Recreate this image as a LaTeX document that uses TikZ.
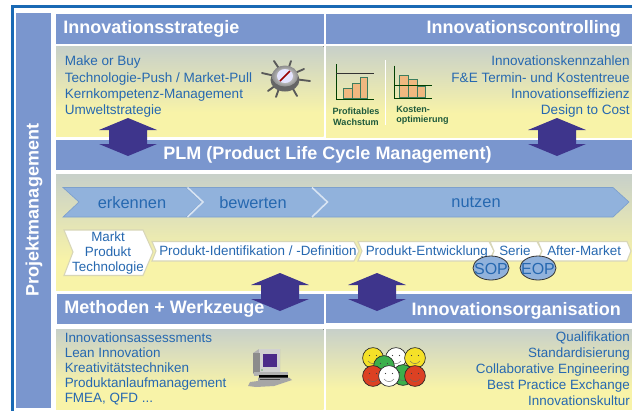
\documentclass[tikz,border=0pt]{standalone}
\usepackage{fontspec}
\setmainfont{Liberation Sans}
\definecolor{hdr}{RGB}{122,150,206}
\definecolor{frameblue}{RGB}{25,105,180}
\definecolor{txt}{RGB}{38,104,176}
\definecolor{pyel}{RGB}{248,243,168}
\definecolor{pblu}{RGB}{166,184,224}
\definecolor{chev}{RGB}{145,178,220}
\definecolor{chevline}{RGB}{125,160,205}
\definecolor{arrowc}{RGB}{62,53,140}
\definecolor{barfill}{RGB}{240,184,128}
\definecolor{barline}{RGB}{60,125,95}
\definecolor{lblgreen}{RGB}{30,90,60}
\definecolor{faceyel}{RGB}{245,225,40}
\definecolor{facegrn}{RGB}{60,175,75}
\definecolor{facered}{RGB}{220,65,35}
\pgfdeclareverticalshading{panelshade}{100bp}{color(0bp)=(pyel); color(38bp)=(pyel); color(100bp)=(pblu)}
\tikzset{
  panel/.style={shading=panelshade,draw=none},
  header/.style={fill=hdr,draw=none},
  headtext/.style={text=white,font=\bfseries\fontsize{13.5}{15}\selectfont,inner sep=0pt},
  bodyL/.style={text=txt,font=\fontsize{10.15}{12.2}\selectfont,align=left,anchor=north west,inner sep=0pt},
  bodyR/.style={text=txt,font=\fontsize{10.15}{12.2}\selectfont,align=right,anchor=north east,inner sep=0pt},
  bigchev/.style={fill=chev,draw=chevline,line width=0.5pt},
  smallchev/.style={fill=white,draw=pyel!60!gray!70,line width=0.8pt},
  chevtext/.style={text=txt,font=\fontsize{10.05}{11.3}\selectfont,inner sep=0pt,align=center},
  chevline1/.style={chevtext,anchor=west,text height=7pt,text depth=2pt},
  bigtext/.style={text=txt,font=\fontsize{12.3}{14}\selectfont,inner sep=0pt},
  dblarrow/.style={fill=arrowc,draw=none},
  barbox/.style={fill=barfill,draw=barline,line width=0.7pt},
  chartaxis/.style={draw=black!75!green,line width=0.6pt},
  chartlbl/.style={text=lblgreen,font=\bfseries\fontsize{6.8}{8}\selectfont,inner sep=0pt,align=left}
}
\newcommand{\myface}[3]{%
  \filldraw[fill=#3,draw=black!85,line width=0.5pt] (#1,#2) circle (10.4);
  \fill[black!75] (#1-3.5,#2-2.5) circle (0.7) (#1+3.5,#2-2.5) circle (0.7);
  \draw[black!60,line width=0.3pt] (#1-5,#2+3) .. controls (#1-2,#2+6.5) and (#1+2,#2+6.5) .. (#1+5,#2+3);
}
\newcommand{\myarrow}[2]{%
  \fill[dblarrow] (#1,#2) -- (#1+29,#2+12) -- (#1+19,#2+12) -- (#1+19,#2+26) -- (#1+29,#2+26) -- (#1,#2+38) -- (#1-29,#2+26) -- (#1-19,#2+26) -- (#1-19,#2+12) -- (#1-29,#2+12) -- cycle;
}
\begin{document}
\begin{tikzpicture}[x=0.75pt,y=-0.75pt]
\useasboundingbox (0,0) rectangle (632,411);
\fill[white] (0,0) rectangle (632,411);
% frame
\fill[frameblue] (11,5.3) rectangle (632,8);
\fill[frameblue] (11,5.3) rectangle (13.6,411);
% left bar
\fill[header] (16,13) rectangle (51,408);
\node[headtext,rotate=90] (pm) at (34,210) {Projektmanagement};
% top headers
\fill[header] (56,14) rectangle (323.5,44);
\fill[header] (326,14) rectangle (632,44);
\node[headtext,anchor=west] (h1) at (63,29) {Innovationsstrategie};
\node[headtext,anchor=east] (h2) at (621,29) {Innovationscontrolling};
% top panels
\fill[panel] (56,46) rectangle (323.5,136);
\fill[panel] (326,46) rectangle (632,137);
\node[bodyL] (t1) at (64.5,55.8) {Make or Buy\\Technologie-Push / Market-Pull\\Kernkompetenz-Management\\Umweltstrategie};
\node[bodyR] (t2) at (630,55.8) {Innovationskennzahlen\\F\&E Termin- und Kostentreue\\Innovationseffizienz\\Design to Cost};
% PLM
\fill[header] (56,140) rectangle (632,170);
\node[headtext] (plm) at (327.5,155) {PLM (Product Life Cycle Management)};
% process panel
\fill[panel] (56,174) rectangle (632,290.5);
\filldraw[bigchev] (63,187.5) -- (186,187.5) -- (202,202) -- (186,217) -- (63,217) -- (79,202) -- cycle;
\filldraw[bigchev] (187,187.5) -- (312,187.5) -- (328,202) -- (312,217) -- (187,217) -- (203,202) -- cycle;
\filldraw[bigchev] (312,187.5) -- (613,187.5) -- (629,202) -- (613,217) -- (312,217) -- (328,202) -- cycle;
\draw[white!65!chev,line width=1.2pt] (187.5,187.5) -- (203,202) -- (187.5,217);
\draw[white!65!chev,line width=1.2pt] (312,187.5) -- (327.5,202) -- (312,217);
\node[bigtext] (e1) at (132,202.5) {erkennen};
\node[bigtext] (e2) at (253,202.5) {bewerten};
\node[bigtext] (e3) at (476,202.5) {nutzen};
% small chevrons
\filldraw[smallchev] (64,230) -- (143,230) -- (153,252) -- (143,275.5) -- (64,275.5) -- (73,252) -- cycle;
\filldraw[smallchev] (152,241.5) -- (354,241.5) -- (359,251) -- (354,261) -- (152,261) -- (156,251) -- cycle;
\filldraw[smallchev] (358,241.5) -- (489,241.5) -- (494,251) -- (489,261) -- (358,261) -- (362,251) -- cycle;
\filldraw[smallchev] (490,241.5) -- (537,241.5) -- (542,251) -- (537,261) -- (490,261) -- (494,251) -- cycle;
\filldraw[smallchev] (538,241.5) -- (627,241.5) -- (631,251) -- (627,261) -- (538,261) -- (542,251) -- cycle;
\node[chevtext] (c1) at (108,253) {Markt\\Produkt\\Technologie};
\node[chevline1] (c2) at (159,252.6) {Produkt-Identifikation / -Definition};
\node[chevline1] (c3) at (365.5,252.6) {Produkt-Entwicklung};
\node[chevline1] (c4) at (499,252.6) {Serie};
\node[chevline1] (c5) at (547,252.6) {After-Market};
\path[draw=black!80,fill=chev,line width=0.6pt] (491,268) ellipse (18 and 12);
\path[draw=black!80,fill=chev,line width=0.6pt] (538,268) ellipse (18 and 12);
\node[chevtext,font=\fontsize{12}{13}\selectfont] (sop) at (491,268.5) {SOP};
\node[chevtext,font=\fontsize{12}{13}\selectfont] (eop) at (538,268.5) {EOP};
% lower headers
\fill[header] (57,294) rectangle (323.5,324);
\fill[header] (326,294) rectangle (632,323);
\node[headtext,anchor=west] (h3) at (64,309) {Methoden + Werkzeuge};
\node[headtext,anchor=east] (h4) at (621,310.5) {Innovationsorganisation};
% lower panels
\fill[panel] (56,329) rectangle (323.5,409);
\fill[panel] (326,329) rectangle (632,409);
\node[bodyL,font=\fontsize{10.1}{11.25}\selectfont] (t3) at (64.5,332.8) {Innovationsassessments\\Lean Innovation\\Kreativitätstechniken\\Produktanlaufmanagement\\FMEA, QFD ...};
\node[bodyR,font=\fontsize{10.07}{12}\selectfont] (t4) at (630,331.5) {Qualifikation\\Standardisierung\\Collaborative Engineering\\Best Practice Exchange\\Innovationskultur};
% double arrows
\myarrow{128}{118}
\myarrow{557}{118}
\myarrow{280}{273}
\myarrow{377}{273}
% wheel icon
\foreach \a/\b/\c/\d in {262/73/284/78, 274/61/284/76, 291/61/286/76, 310/81/286/78, 297/96/288/80, 276/97/282/80, 304/69/288/76, 268/91/283/80}{
  \draw[black!65,line width=1.4pt,line cap=round] (\a,\b) -- (\c,\d);
}
\fill[black!60] (285,80) ellipse (14.5 and 11.5);
\shade[inner color=white,outer color=black!45] (285,76) ellipse (13 and 10.5);
\fill[blue!10!white] (285,76) ellipse (8 and 7);
\draw[red!60!black,line width=1.1pt] (280,81) -- (290,71);
% charts
\draw[white,line width=0.6pt] (385,60) -- (385,125);
\filldraw[barbox] (343,88) rectangle (352,98.5);
\filldraw[barbox] (352,83) rectangle (360,98.5);
\filldraw[barbox] (360,77) rectangle (367,98.5);
\draw[chartaxis] (336,64) -- (336,99) -- (374,99);
\draw[black!80,line width=0.5pt] (336,73) -- (374,73);
\filldraw[barbox] (399.5,75.5) rectangle (408.5,97.5);
\filldraw[barbox] (408.5,79) rectangle (417,97.5);
\filldraw[barbox] (417,86) rectangle (425,97.5);
\draw[chartaxis] (394,65.5) -- (394,98.5) -- (432,98.5);
\draw[black!75!green,line width=0.5pt] (394,85.5) -- (432,85.5);
\node[chartlbl,align=center] (p1) at (356,116.5) {Profitables\\Wachstum};
\node[chartlbl,anchor=west] (p2) at (396,115.5) {Kosten-\\optimierung};
% computer icon
\fill[black!30] (253,353) -- (259,349) -- (280,349) -- (280,374) -- (253,374) -- cycle;
\fill[black!18] (259,349) rectangle (280,372);
\fill[black!45] (253,353) rectangle (260,373);
\fill[arrowc!80!violet] (263,354) rectangle (277,367);
\fill[black!30] (254,372) rectangle (288,376);
\fill[black] (259,374.5) rectangle (288,377.5);
\fill[black!35] (258,377.5) -- (289,377.5) -- (292,380) -- (274,386) -- (256,387) -- (248,386) -- (250,382) -- (258,381) -- cycle;
\fill[black!70] (260,379) rectangle (280,380);
\fill[green!50!black] (262,370) circle (0.7);
% smileys
\myface{373}{358}{faceyel}
\myface{396}{358}{white}
\myface{415}{358}{faceyel}
\myface{384}{366}{facegrn}
\myface{403}{375}{facegrn}
\myface{373}{376}{facered}
\myface{389}{376}{white}
\myface{415}{376}{facered}
\end{tikzpicture}
\end{document}
